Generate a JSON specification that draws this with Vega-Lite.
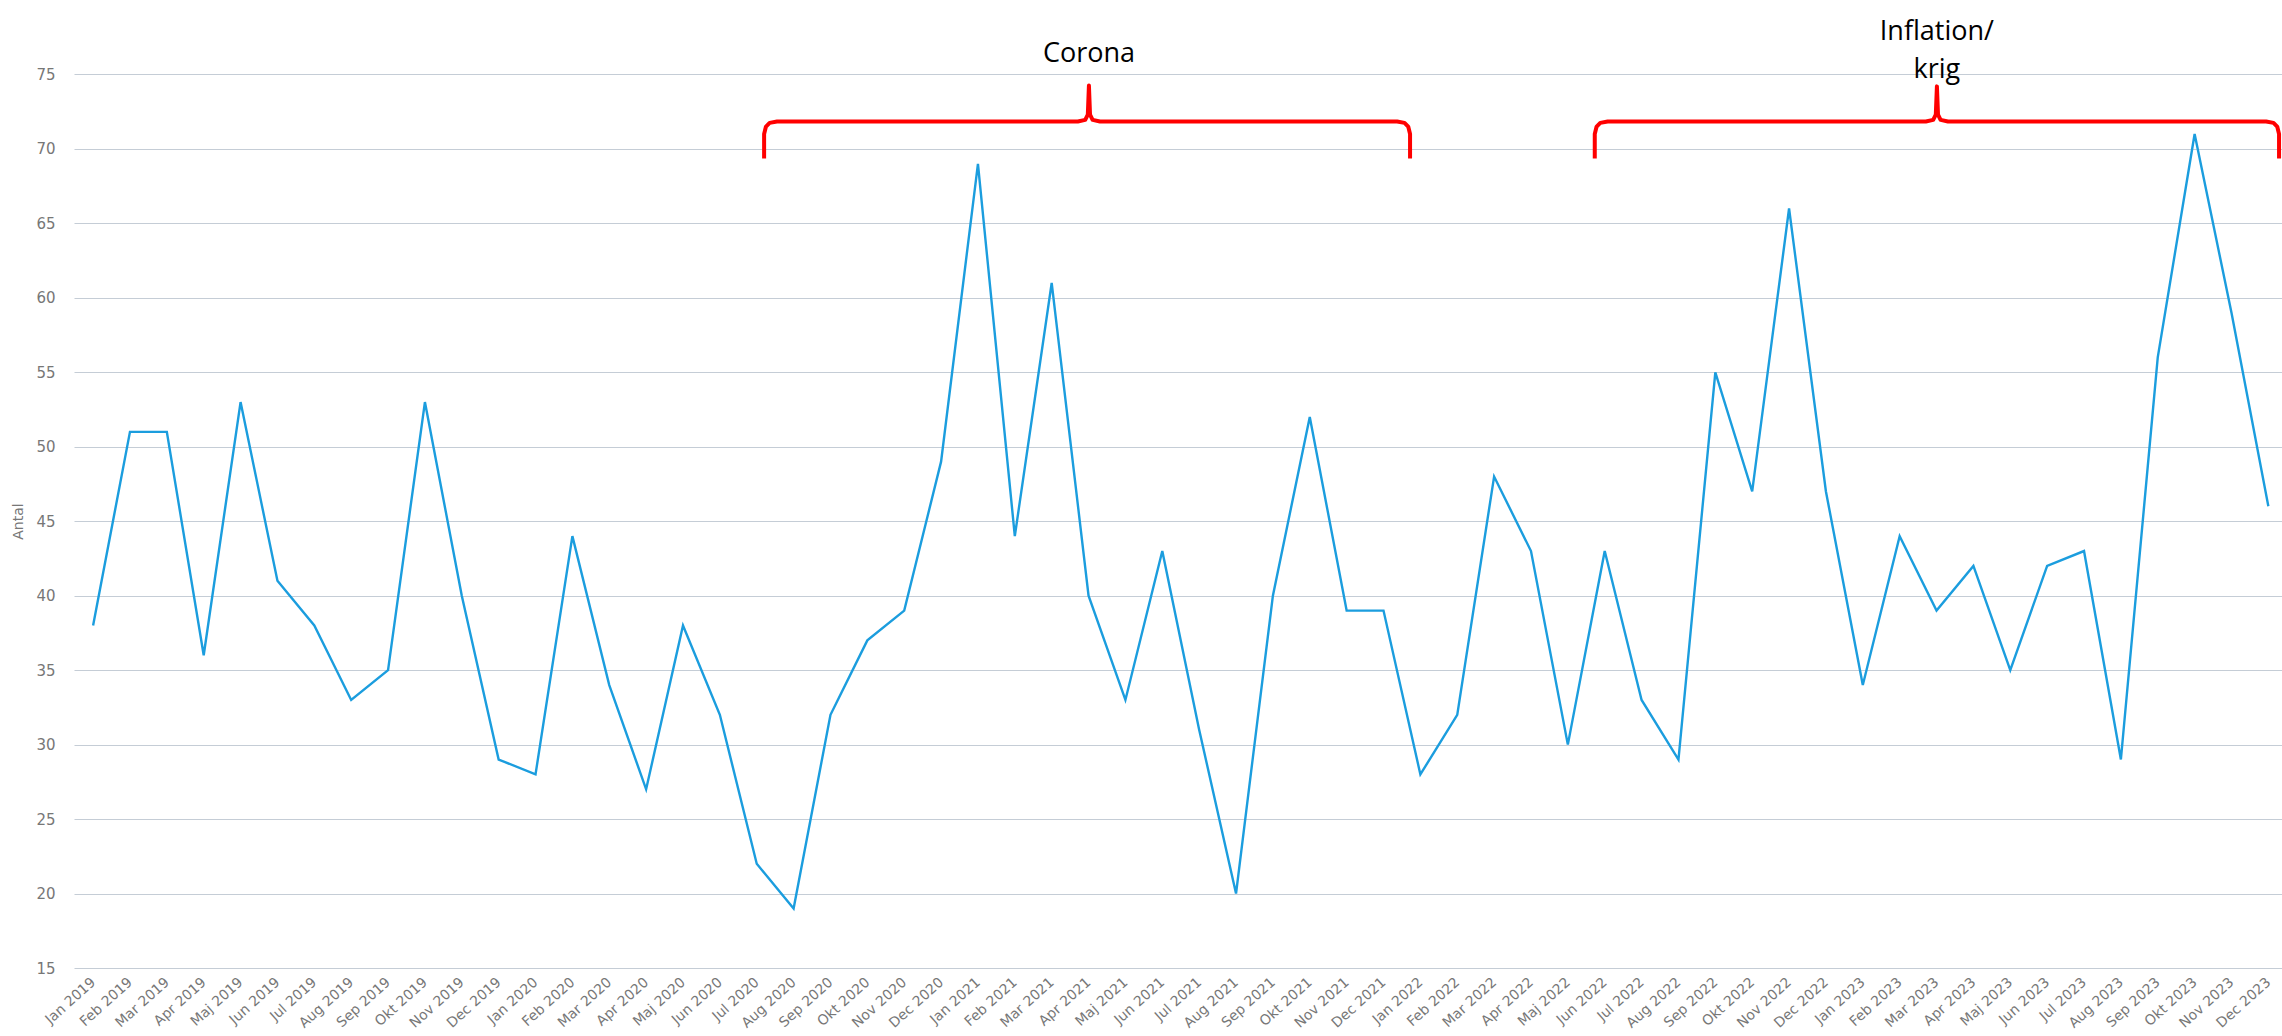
{
  "$schema": "https://vega.github.io/schema/vega-lite/v6.json",
  "width": 2208,
  "height": 968,
  "autosize": "none",
  "padding": {"left": 74, "top": 0, "right": 0, "bottom": 68},
  "background": "white",
  "config": {"view": {"stroke": null}},
  "datasets": {
    "monthly": [
      {"idx": 0, "month": "Jan 2019", "antal": 38},
      {"idx": 1, "month": "Feb 2019", "antal": 51},
      {"idx": 2, "month": "Mar 2019", "antal": 51},
      {"idx": 3, "month": "Apr 2019", "antal": 36},
      {"idx": 4, "month": "Maj 2019", "antal": 53},
      {"idx": 5, "month": "Jun 2019", "antal": 41},
      {"idx": 6, "month": "Jul 2019", "antal": 38},
      {"idx": 7, "month": "Aug 2019", "antal": 33},
      {"idx": 8, "month": "Sep 2019", "antal": 35},
      {"idx": 9, "month": "Okt 2019", "antal": 53},
      {"idx": 10, "month": "Nov 2019", "antal": 40},
      {"idx": 11, "month": "Dec 2019", "antal": 29},
      {"idx": 12, "month": "Jan 2020", "antal": 28},
      {"idx": 13, "month": "Feb 2020", "antal": 44},
      {"idx": 14, "month": "Mar 2020", "antal": 34},
      {"idx": 15, "month": "Apr 2020", "antal": 27},
      {"idx": 16, "month": "Maj 2020", "antal": 38},
      {"idx": 17, "month": "Jun 2020", "antal": 32},
      {"idx": 18, "month": "Jul 2020", "antal": 22},
      {"idx": 19, "month": "Aug 2020", "antal": 19},
      {"idx": 20, "month": "Sep 2020", "antal": 32},
      {"idx": 21, "month": "Okt 2020", "antal": 37},
      {"idx": 22, "month": "Nov 2020", "antal": 39},
      {"idx": 23, "month": "Dec 2020", "antal": 49},
      {"idx": 24, "month": "Jan 2021", "antal": 69},
      {"idx": 25, "month": "Feb 2021", "antal": 44},
      {"idx": 26, "month": "Mar 2021", "antal": 61},
      {"idx": 27, "month": "Apr 2021", "antal": 40},
      {"idx": 28, "month": "Maj 2021", "antal": 33},
      {"idx": 29, "month": "Jun 2021", "antal": 43},
      {"idx": 30, "month": "Jul 2021", "antal": 31},
      {"idx": 31, "month": "Aug 2021", "antal": 20},
      {"idx": 32, "month": "Sep 2021", "antal": 40},
      {"idx": 33, "month": "Okt 2021", "antal": 52},
      {"idx": 34, "month": "Nov 2021", "antal": 39},
      {"idx": 35, "month": "Dec 2021", "antal": 39},
      {"idx": 36, "month": "Jan 2022", "antal": 28},
      {"idx": 37, "month": "Feb 2022", "antal": 32},
      {"idx": 38, "month": "Mar 2022", "antal": 48},
      {"idx": 39, "month": "Apr 2022", "antal": 43},
      {"idx": 40, "month": "Maj 2022", "antal": 30},
      {"idx": 41, "month": "Jun 2022", "antal": 43},
      {"idx": 42, "month": "Jul 2022", "antal": 33},
      {"idx": 43, "month": "Aug 2022", "antal": 29},
      {"idx": 44, "month": "Sep 2022", "antal": 55},
      {"idx": 45, "month": "Okt 2022", "antal": 47},
      {"idx": 46, "month": "Nov 2022", "antal": 66},
      {"idx": 47, "month": "Dec 2022", "antal": 47},
      {"idx": 48, "month": "Jan 2023", "antal": 34},
      {"idx": 49, "month": "Feb 2023", "antal": 44},
      {"idx": 50, "month": "Mar 2023", "antal": 39},
      {"idx": 51, "month": "Apr 2023", "antal": 42},
      {"idx": 52, "month": "Maj 2023", "antal": 35},
      {"idx": 53, "month": "Jun 2023", "antal": 42},
      {"idx": 54, "month": "Jul 2023", "antal": 43},
      {"idx": 55, "month": "Aug 2023", "antal": 29},
      {"idx": 56, "month": "Sep 2023", "antal": 56},
      {"idx": 57, "month": "Okt 2023", "antal": 71},
      {"idx": 58, "month": "Nov 2023", "antal": 59},
      {"idx": 59, "month": "Dec 2023", "antal": 46}
    ],
    "braces": [
      {"brace": "Corona", "o": 1, "x": 18.2, "y": 69.36},
      {"brace": "Corona", "o": 2, "x": 18.2, "y": 71.0},
      {"brace": "Corona", "o": 3, "x": 18.25, "y": 71.5},
      {"brace": "Corona", "o": 4, "x": 18.35, "y": 71.75},
      {"brace": "Corona", "o": 5, "x": 18.55, "y": 71.84},
      {"brace": "Corona", "o": 6, "x": 26.71, "y": 71.84},
      {"brace": "Corona", "o": 7, "x": 26.91, "y": 71.95},
      {"brace": "Corona", "o": 8, "x": 26.98, "y": 72.3},
      {"brace": "Corona", "o": 9, "x": 27.01, "y": 74.26},
      {"brace": "Corona", "o": 10, "x": 27.04, "y": 72.3},
      {"brace": "Corona", "o": 11, "x": 27.11, "y": 71.95},
      {"brace": "Corona", "o": 12, "x": 27.31, "y": 71.84},
      {"brace": "Corona", "o": 13, "x": 35.37, "y": 71.84},
      {"brace": "Corona", "o": 14, "x": 35.57, "y": 71.75},
      {"brace": "Corona", "o": 15, "x": 35.67, "y": 71.5},
      {"brace": "Corona", "o": 16, "x": 35.72, "y": 71.0},
      {"brace": "Corona", "o": 17, "x": 35.72, "y": 69.36},
      {"brace": "Inflation", "o": 1, "x": 40.73, "y": 69.36},
      {"brace": "Inflation", "o": 2, "x": 40.73, "y": 71.0},
      {"brace": "Inflation", "o": 3, "x": 40.78, "y": 71.5},
      {"brace": "Inflation", "o": 4, "x": 40.88, "y": 71.75},
      {"brace": "Inflation", "o": 5, "x": 41.08, "y": 71.84},
      {"brace": "Inflation", "o": 6, "x": 49.71, "y": 71.84},
      {"brace": "Inflation", "o": 7, "x": 49.91, "y": 71.95},
      {"brace": "Inflation", "o": 8, "x": 49.98, "y": 72.3},
      {"brace": "Inflation", "o": 9, "x": 50.01, "y": 74.2},
      {"brace": "Inflation", "o": 10, "x": 50.04, "y": 72.3},
      {"brace": "Inflation", "o": 11, "x": 50.11, "y": 71.95},
      {"brace": "Inflation", "o": 12, "x": 50.31, "y": 71.84},
      {"brace": "Inflation", "o": 13, "x": 58.94, "y": 71.84},
      {"brace": "Inflation", "o": 14, "x": 59.14, "y": 71.75},
      {"brace": "Inflation", "o": 15, "x": 59.24, "y": 71.5},
      {"brace": "Inflation", "o": 16, "x": 59.29, "y": 71.0},
      {"brace": "Inflation", "o": 17, "x": 59.29, "y": 69.36}
    ],
    "labels": [
      {"label": "Corona", "x": 27.01, "y": 76.37},
      {"label": "Inflation/\nkrig", "x": 50.01, "y": 77.85}
    ]
  },
  "layer": [
    {
      "data": {"name": "monthly"},
      "mark": {"type": "line", "color": "#1B9DDE", "strokeWidth": 2.4},
      "encoding": {
        "x": {
          "field": "idx",
          "type": "quantitative",
          "scale": {"domain": [-0.518, 59.37], "nice": false, "zero": false},
          "axis": {
            "title": null,
            "values": [0,1,2,3,4,5,6,7,8,9,10,11,12,13,14,15,16,17,18,19,20,21,22,23,24,25,26,27,28,29,30,31,32,33,34,35,36,37,38,39,40,41,42,43,44,45,46,47,48,49,50,51,52,53,54,55,56,57,58,59],
            "tickCount": 200,
            "labelExpr": "['Jan','Feb','Mar','Apr','Maj','Jun','Jul','Aug','Sep','Okt','Nov','Dec'][datum.value % 12] + ' ' + (2019 + floor(datum.value / 12))",
            "labelAngle": -42,
            "labelAlign": "right",
            "labelBaseline": "middle",
            "labelPadding": 12,
            "labelFont": "DejaVu Sans",
            "labelFontSize": 14,
            "labelColor": "#777777",
            "labelOverlap": false,
            "labelBound": false,
            "labelFlush": false,
            "domain": false,
            "ticks": false,
            "grid": false
          }
        },
        "y": {
          "field": "antal",
          "type": "quantitative",
          "scale": {"domain": [15, 80], "nice": false, "zero": false},
          "axis": {
            "title": "Antal",
            "titleFont": "DejaVu Sans",
            "titleFontSize": 14,
            "titleFontWeight": "normal",
            "titleColor": "#777777",
            "titlePadding": 10,
            "titleY": 521,
            "values": [15,20,25,30,35,40,45,50,55,60,65,70,75],
            "tickCount": 50,
            "labelFont": "DejaVu Sans",
            "labelFontSize": 15,
            "labelColor": "#777777",
            "labelPadding": 19,
            "domain": false,
            "ticks": false,
            "grid": true,
            "gridColor": "#c5cdd6",
            "gridWidth": 1.2
          }
        }
      }
    },
    {
      "data": {"name": "braces"},
      "mark": {"type": "line", "color": "#FF0000", "strokeWidth": 4, "strokeJoin": "round", "strokeCap": "butt"},
      "encoding": {
        "x": {"field": "x", "type": "quantitative"},
        "y": {"field": "y", "type": "quantitative"},
        "detail": {"field": "brace"},
        "order": {"field": "o"}
      }
    },
    {
      "data": {"name": "labels"},
      "mark": {"type": "text", "font": "Open Sans", "fontSize": 27, "color": "#000000", "align": "center", "baseline": "middle", "lineBreak": "\n", "lineHeight": 38},
      "encoding": {
        "x": {"field": "x", "type": "quantitative"},
        "y": {"field": "y", "type": "quantitative"},
        "text": {"field": "label"}
      }
    }
  ]
}
